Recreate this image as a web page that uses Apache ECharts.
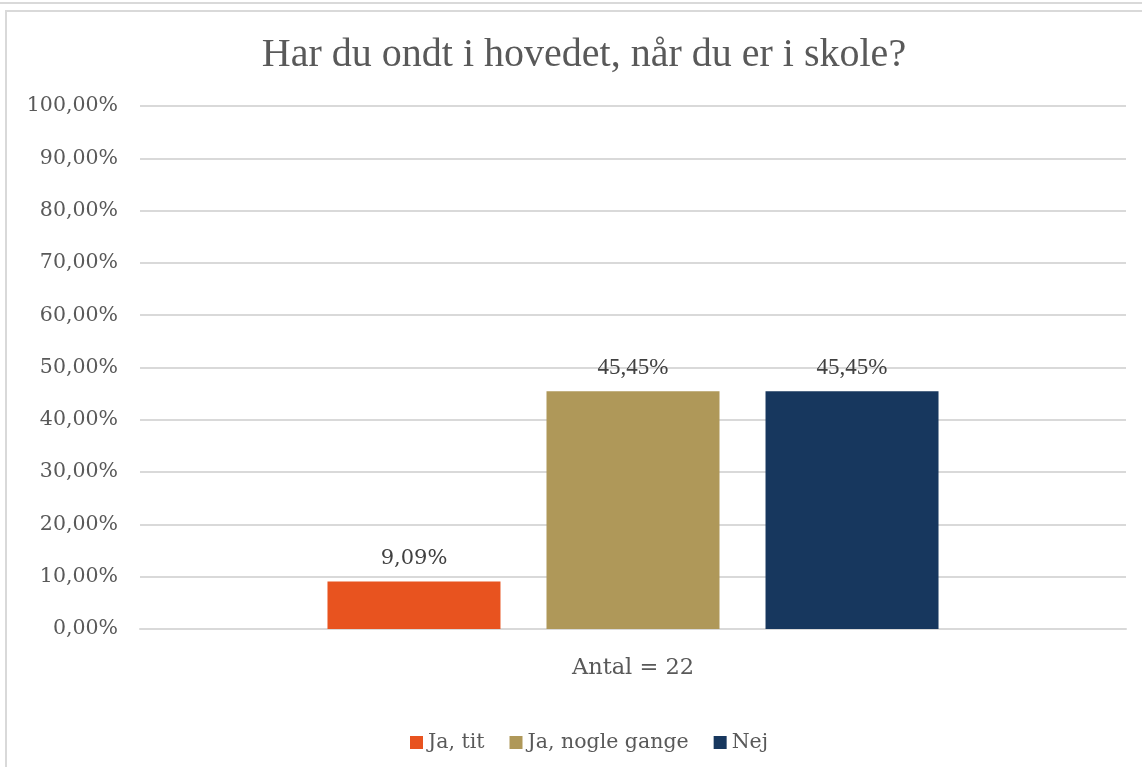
<!DOCTYPE html>
<html>
<head>
<meta charset="utf-8">
<script src="https://cdn.jsdelivr.net/npm/echarts@6/dist/echarts.min.js"></script>
<style>
	html, body { margin: 0; padding: 0; background: #fff; }
	.topline { position: absolute; left: 0; top: 0; width: 1142px; height: 2px; border-bottom: 2px solid #d9d9d9; }
	.frame { position: absolute; left: 5px; top: 10px; width: 1160px; height: 780px; border: 2px solid #d9d9d9; box-sizing: border-box; }
	#chart { position: absolute; left: 0; top: 0; width: 1142px; height: 767px; }
</style>
</head>
<body>
<div class="topline"></div>
<div class="frame"></div>
<div id="chart"></div>
<script>
	// data
	var categories = ['Antal = 22']
	var seriesNames = ['Ja, tit', 'Ja, nogle gange', 'Nej']
	var seriesValues = [[0.0909], [0.4545], [0.4545]]
	var seriesColors = ['#e8531f', '#af9859', '#17375e']
	var yTicks = [0, 0.1, 0.2, 0.3, 0.4, 0.5, 0.6, 0.7, 0.8, 0.9, 1]

	function pct(v) {
		return (v * 100).toFixed(2).replace('.', ',') + '%'
	}

	var chart = echarts.init(document.getElementById('chart'))
	var series = seriesNames.map(function (name, i) {
		return {
			name: name,
			type: 'bar',
			data: seriesValues[i],
			barWidth: 173,
			barGap: '26.6%',
			itemStyle: { color: seriesColors[i] },
			label: {
				show: true,
				position: 'top',
				distance: 12,
				color: '#404040',
				fontFamily: i == 0 ? 'DejaVu Serif' : 'Liberation Serif',
				fontSize: i == 0 ? 21 : 23,
				formatter: function (p) { return pct(p.value) }
			}
		}
	})

	chart.setOption({
		animation: false,
		title: {
			text: 'Har du ondt i hovedet, når du er i skole?',
			left: 579,
			textAlign: 'center',
			top: 30,
			textStyle: { fontFamily: 'Liberation Serif', fontSize: 40, fontWeight: 'normal', color: '#595959' }
		},
		legend: {
			data: seriesNames,
			left: 405,
			top: 727,
			itemWidth: 13,
			itemHeight: 13,
			itemGap: 25,
			icon: 'rect',
			textStyle: { fontFamily: 'DejaVu Serif', fontSize: 20.5, color: '#595959' }
		},
		grid: { left: 140, right: 16, top: 106, bottom: 138 },
		xAxis: {
			type: 'category',
			data: categories,
			axisTick: { show: false },
			axisLine: { lineStyle: { color: '#d9d9d9', width: 2 } },
			axisLabel: { margin: 28, fontFamily: 'DejaVu Serif', fontSize: 22.5, color: '#595959' }
		},
		yAxis: {
			type: 'value',
			min: yTicks[0],
			max: yTicks[yTicks.length - 1],
			interval: 0.1,
			axisLine: { show: false },
			axisTick: { show: false },
			splitLine: { lineStyle: { color: '#d9d9d9', width: 2 } },
			axisLabel: {
				margin: 22,
				fontFamily: 'DejaVu Serif',
				fontSize: 20.5,
				color: '#595959',
				formatter: function (v) { return pct(v) }
			}
		},
		series: series
	})
</script>
</body>
</html>
